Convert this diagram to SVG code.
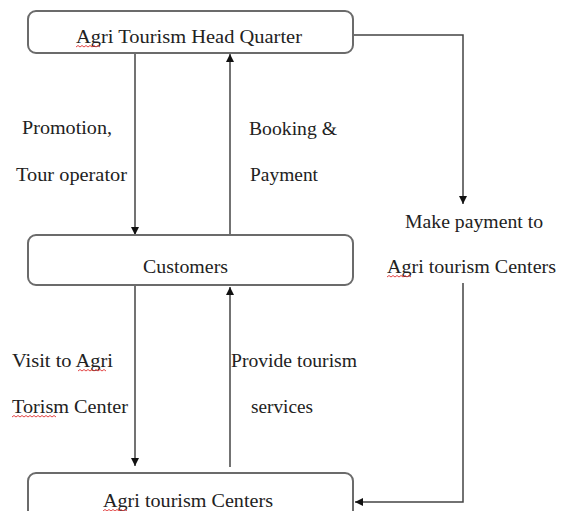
<svg xmlns="http://www.w3.org/2000/svg" width="569" height="511" viewBox="0 0 569 511">
  <style>
    .box { fill: #fff; stroke: #6b6b6b; stroke-width: 2; }
    .t { font-family: "Liberation Serif", "Times New Roman", serif; font-size: 18px; fill: #222; }
    .ln { fill: none; stroke: #444; stroke-width: 1.5; }
    .sq { fill: none; stroke: #e03030; stroke-width: 0.9; }
  </style>
  <defs>
    <marker id="arr" viewBox="0 0 10 10" refX="10" refY="5" markerWidth="8" markerHeight="8" markerUnits="userSpaceOnUse" orient="auto">
      <path d="M0,0 L10,5 L0,10 Z" fill="#111"/>
    </marker>
  </defs>
  <rect width="569" height="511" fill="#fff"/>

  <g id="connectors">
    <line class="ln" x1="135" y1="53" x2="135" y2="235" marker-end="url(#arr)"/>
    <line class="ln" x1="230" y1="235" x2="230" y2="54" marker-end="url(#arr)"/>
    <polyline class="ln" points="353,35 463,35 463,204" marker-end="url(#arr)"/>
    <polyline class="ln" points="463,283 463,502 355,502" marker-end="url(#arr)"/>
    <line class="ln" x1="135" y1="285" x2="135" y2="466" marker-end="url(#arr)"/>
    <line class="ln" x1="230" y1="467" x2="230" y2="287" marker-end="url(#arr)"/>
  </g>

  <g id="hq">
    <rect class="box" x="28" y="11" width="325" height="42" rx="8"/>
    <text class="t" x="76" y="43" textLength="226" lengthAdjust="spacingAndGlyphs">Agri Tourism Head Quarter</text>
  </g>

  <g id="customers">
    <rect class="box" x="28" y="235" width="325" height="50" rx="8"/>
    <text class="t" x="143" y="273" textLength="85" lengthAdjust="spacingAndGlyphs">Customers</text>
  </g>

  <g id="centers">
    <rect class="box" x="28" y="473" width="325" height="60" rx="8"/>
    <text class="t" x="103" y="507" textLength="170" lengthAdjust="spacingAndGlyphs">Agri tourism Centers</text>
  </g>

  <g id="labels">
    <text class="t" x="22" y="134" textLength="90" lengthAdjust="spacingAndGlyphs">Promotion,</text>
    <text class="t" x="16" y="181" textLength="111" lengthAdjust="spacingAndGlyphs">Tour operator</text>
    <text class="t" x="249" y="135" textLength="88" lengthAdjust="spacingAndGlyphs">Booking &amp;</text>
    <text class="t" x="250" y="181" textLength="68" lengthAdjust="spacingAndGlyphs">Payment</text>
    <text class="t" x="405" y="228" textLength="138" lengthAdjust="spacingAndGlyphs">Make payment to</text>
    <text class="t" x="387" y="273" textLength="169" lengthAdjust="spacingAndGlyphs">Agri tourism Centers</text>
    <text class="t" x="12" y="367" textLength="101" lengthAdjust="spacingAndGlyphs">Visit to Agri</text>
    <text class="t" x="12" y="413" textLength="116" lengthAdjust="spacingAndGlyphs">Torism Center</text>
    <text class="t" x="231" y="367" textLength="126" lengthAdjust="spacingAndGlyphs">Provide tourism</text>
    <text class="t" x="251" y="413" textLength="62" lengthAdjust="spacingAndGlyphs">services</text>
  </g>

  <g id="spellcheck">
    <path class="sq" d="M76,47 l2,-1.5 l2,1.5 l2,-1.5 l2,1.5 l2,-1.5 l2,1.5 l2,-1.5 l2,1.5 l2,-1.5 l2,1.5 l2,-1.5 l2,1.5"/>
    <path class="sq" d="M387,277 l2,-1.5 l2,1.5 l2,-1.5 l2,1.5 l2,-1.5 l2,1.5 l2,-1.5 l2,1.5 l2,-1.5 l2,1.5 l2,-1.5 l2,1.5"/>
    <path class="sq" d="M78,371 l2,-1.5 l2,1.5 l2,-1.5 l2,1.5 l2,-1.5 l2,1.5 l2,-1.5 l2,1.5 l2,-1.5 l2,1.5 l2,-1.5 l2,1.5 l2,-1.5 l2,1.5"/>
    <path class="sq" d="M12,417 l2,-1.5 l2,1.5 l2,-1.5 l2,1.5 l2,-1.5 l2,1.5 l2,-1.5 l2,1.5 l2,-1.5 l2,1.5 l2,-1.5 l2,1.5 l2,-1.5 l2,1.5 l2,-1.5 l2,1.5 l2,-1.5 l2,1.5 l2,-1.5 l2,1.5 l2,-1.5 l2,1.5"/>
    <path class="sq" d="M103,511 l2,-1.5 l2,1.5 l2,-1.5 l2,1.5 l2,-1.5 l2,1.5 l2,-1.5 l2,1.5 l2,-1.5 l2,1.5 l2,-1.5 l2,1.5"/>
  </g>
</svg>
